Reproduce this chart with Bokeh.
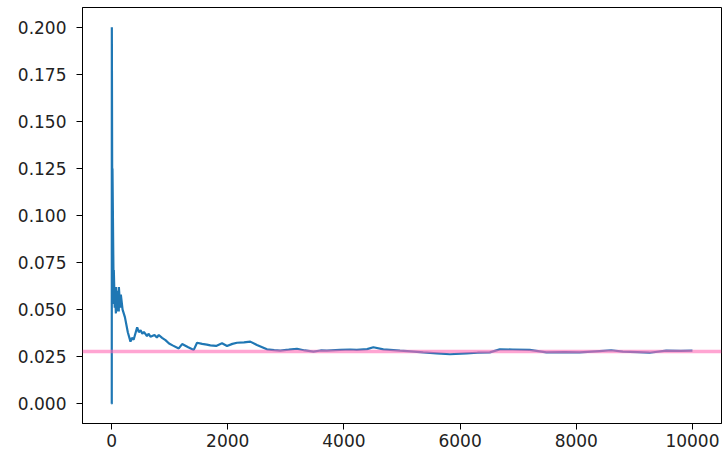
from bokeh.plotting import figure
from bokeh.models import Span, FixedTicker, PrintfTickFormatter, Range1d
from bokeh.embed import file_html
from bokeh.resources import INLINE

# Running estimate
trial = [1, 4, 5, 15, 16, 38, 39, 55, 56, 75, 76, 100, 101, 125, 126, 150, 160, 190,
         230, 280, 326, 350, 380, 441, 470, 500, 530, 556, 610, 640, 670, 740, 780, 813,
         870, 928, 990, 1050, 1157, 1215, 1320, 1415, 1472, 1560, 1640, 1701, 1800, 1902,
         1988, 2080, 2160, 2280, 2388, 2503, 2675, 2800, 2904, 3050, 3191, 3330, 3476,
         3600, 3706, 3935, 4107, 4221, 4400, 4507, 4679, 4966, 5150, 5366, 5600, 5825,
         6111, 6300, 6512, 6684, 6900, 7199, 7486, 7800, 8058, 8402, 8600, 8802, 9050,
         9261, 9548, 9800, 10000]
estimate = [0.0, 0.0, 0.2, 0.067, 0.125, 0.053, 0.071, 0.051, 0.062, 0.048, 0.062,
            0.049, 0.060, 0.049, 0.062, 0.051, 0.058, 0.050,
            0.046, 0.038, 0.033, 0.035, 0.034, 0.0406, 0.038, 0.039, 0.0372, 0.0382,
            0.036, 0.0372, 0.0356, 0.0365, 0.0352, 0.0365, 0.035, 0.0338, 0.032, 0.031,
            0.0294, 0.0317, 0.030, 0.0286, 0.0324, 0.0318, 0.0314, 0.0310, 0.0307,
            0.0321, 0.0307, 0.0318, 0.0324, 0.0326, 0.0330, 0.0312,
            0.0289, 0.0285, 0.0282, 0.0287, 0.0292, 0.0283, 0.0277, 0.0283, 0.0282,
            0.0286, 0.0288, 0.0286, 0.0290, 0.0300, 0.0289, 0.0282, 0.0278, 0.0273,
            0.0268, 0.0263, 0.0268, 0.0271, 0.0273, 0.0289, 0.0288, 0.0286, 0.0273,
            0.0274, 0.0273, 0.0280, 0.0284, 0.0277, 0.0274, 0.0271, 0.0282, 0.0281, 0.0282]
reference_value = 0.0278

x_ticks = [0, 2000, 4000, 6000, 8000, 10000]
y_ticks = [0.0, 0.025, 0.05, 0.075, 0.1, 0.125, 0.15, 0.175, 0.2]

p = figure(width=723, height=454, output_backend="svg", toolbar_location=None,
           x_range=Range1d(-500, 10500), y_range=Range1d(-0.0105, 0.2105),
           min_border_left=82, min_border_right=2, min_border_top=7, min_border_bottom=31)
p.background_fill_color = "white"
p.border_fill_color = "white"
p.grid.visible = False
p.outline_line_color = "black"
p.outline_line_width = 1

p.line(trial, estimate, line_color="#1f77b4", line_width=2.2)
p.add_layout(Span(location=reference_value, dimension="width",
                  line_color="#ff69b4", line_alpha=0.6, line_width=3.5))

for ax in (p.xaxis[0], p.yaxis[0]):
    ax.axis_line_color = "black"
    ax.axis_line_width = 1
    ax.major_tick_line_color = "black"
    ax.major_tick_in = 0
    ax.major_tick_out = 6
    ax.minor_tick_line_color = None
    ax.major_label_text_font = "DejaVu Sans"
    ax.major_label_text_font_size = "17px"
    ax.major_label_text_color = "#222222"

p.xaxis[0].ticker = FixedTicker(ticks=x_ticks)
p.yaxis[0].ticker = FixedTicker(ticks=y_ticks)
p.yaxis[0].formatter = PrintfTickFormatter(format="%.3f")
p.xaxis[0].major_label_standoff = 4
p.yaxis[0].major_label_standoff = 10

open("out.html", "w").write(file_html(p, INLINE))
